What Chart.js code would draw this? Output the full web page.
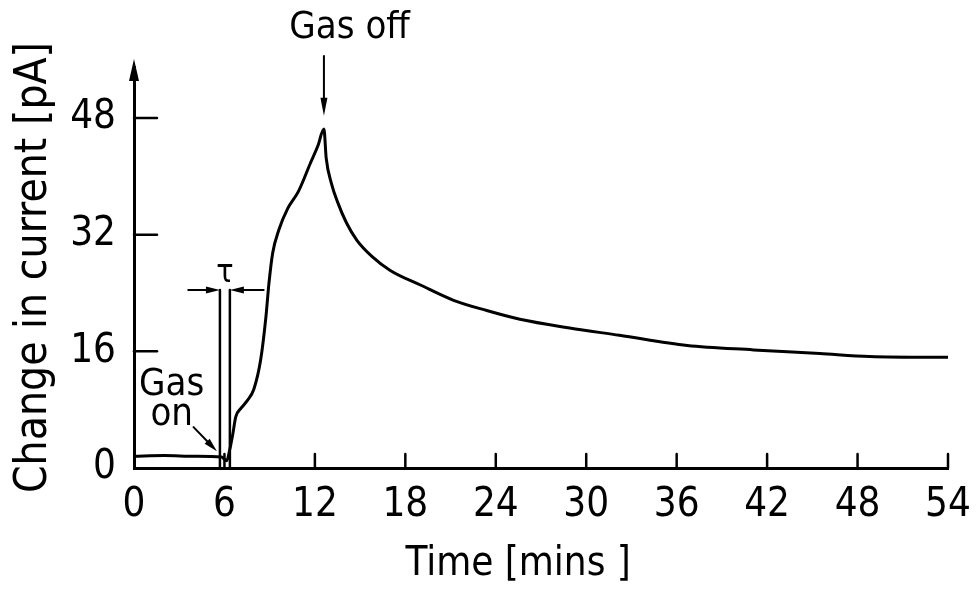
<!DOCTYPE html>
<html>
<head>
<meta charset="utf-8">
<script src="https://cdn.jsdelivr.net/npm/chart.js@4/dist/chart.umd.min.js"></script>
<style>
  html, body { margin: 0; padding: 0; background: #fff; }
  canvas { display: block; }
</style>
</head>
<body>
<canvas id="gasChart" width="976" height="589"></canvas>
<script>
// time (mins) vs change in current (pA)
const times = [0, 2, 4, 5.8, 6.15, 6.35, 6.55, 6.75, 7.1, 7.5, 7.95, 8.4, 8.75, 8.95, 9.2, 9.6, 10.2, 10.9, 11.7, 12.2, 12.6,
  12.75, 13.1, 13.5, 14.1, 14.8, 15.8, 17.0, 19.0, 21.2, 23.4, 25.6, 28.9, 32.2, 36.7, 41.1, 45.5, 48.8, 52.8, 54];
const current = [1.6, 1.7, 1.6, 1.5, 1.0, 2.5, 4.6, 7.0, 8.2, 9.2, 10.8, 14.8, 20.7, 25.3, 29.5, 32.6, 35.6, 37.9, 41.8, 44.2, 46.5,
  42.5, 39.0, 36.5, 33.6, 31.2, 29.0, 27.1, 25.1, 23.0, 21.6, 20.4, 19.2, 18.2, 16.8, 16.2, 15.7, 15.3, 15.2, 15.2];
const xTicks = [0, 6, 12, 18, 24, 30, 36, 42, 48, 54];
const yTicks = [0, 16, 32, 48];

// annotation anchors, in data units
const gasOff = { x: 12.6, from: 56.5, to: 48.3, labelX: 14.3, labelY: 60.3 };
const gasOn = { x1: 3.95, y1: 5.6, x2: 5.5, y2: 2.3, labelX: 2.5, gasY: 11.3, onY: 7.2 };
const tau = { left: 5.7, right: 6.36, top: 24.4, armL: 3.6, armR: 8.6, labelY: 26.6 };

const FONT = "'DejaVu Sans Condensed', 'DejaVu Sans', sans-serif";

function arrowHead(ctx, x, y, ang, len, w) {
  ctx.beginPath();
  ctx.moveTo(x, y);
  ctx.lineTo(x - len * Math.cos(ang) + w * Math.sin(ang), y - len * Math.sin(ang) - w * Math.cos(ang));
  ctx.lineTo(x - len * Math.cos(ang) - w * Math.sin(ang), y - len * Math.sin(ang) + w * Math.cos(ang));
  ctx.closePath();
  ctx.fill();
}

const decorations = {
  id: 'decorations',
  afterDraw(chart) {
    const ctx = chart.ctx;
    const xs = chart.scales.x, ys = chart.scales.y;
    const area = chart.chartArea;
    const px = v => xs.getPixelForValue(v);
    const py = v => ys.getPixelForValue(v);
    ctx.save();
    ctx.strokeStyle = '#000';
    ctx.fillStyle = '#000';
    ctx.lineCap = 'round';

    // inward tick marks
    ctx.lineWidth = 2.5;
    xTicks.forEach(v => {
      if (v === 0) return;
      ctx.beginPath();
      ctx.moveTo(px(v), area.bottom);
      ctx.lineTo(px(v), area.bottom - 14);
      ctx.stroke();
    });
    yTicks.forEach(v => {
      if (v === 0) return;
      ctx.beginPath();
      ctx.moveTo(area.left, py(v));
      ctx.lineTo(area.left + 23, py(v));
      ctx.stroke();
    });

    // y axis arrow
    arrowHead(ctx, area.left, area.top - 8, -Math.PI / 2, 22, 5);

    // Gas off
    ctx.lineWidth = 2;
    ctx.beginPath();
    ctx.moveTo(px(gasOff.x), py(gasOff.from));
    ctx.lineTo(px(gasOff.x), py(gasOff.to) - 8);
    ctx.stroke();
    arrowHead(ctx, px(gasOff.x), py(gasOff.to), Math.PI / 2, 18, 3.5);
    ctx.font = '38px ' + FONT;
    ctx.textAlign = 'center';
    ctx.textBaseline = 'middle';
    ctx.fillText('Gas off', px(gasOff.labelX), py(gasOff.labelY));

    // Gas on
    ctx.fillText('Gas', px(gasOn.labelX), py(gasOn.gasY));
    ctx.fillText('on', px(gasOn.labelX), py(gasOn.onY));
    const a = Math.atan2(py(gasOn.y2) - py(gasOn.y1), px(gasOn.x2) - px(gasOn.x1));
    ctx.beginPath();
    ctx.moveTo(px(gasOn.x1), py(gasOn.y1));
    ctx.lineTo(px(gasOn.x2) - 8 * Math.cos(a), py(gasOn.y2) - 8 * Math.sin(a));
    ctx.stroke();
    arrowHead(ctx, px(gasOn.x2), py(gasOn.y2), a, 14, 3.5);

    // tau markers
    ctx.lineWidth = 2.5;
    [tau.left, tau.right].forEach(t => {
      ctx.beginPath();
      ctx.moveTo(px(t), py(0));
      ctx.lineTo(px(t), py(tau.top));
      ctx.stroke();
    });
    ctx.lineWidth = 2;
    ctx.beginPath();
    ctx.moveTo(px(tau.armL), py(tau.top));
    ctx.lineTo(px(tau.left) - 6, py(tau.top));
    ctx.moveTo(px(tau.armR), py(tau.top));
    ctx.lineTo(px(tau.right) + 6, py(tau.top));
    ctx.stroke();
    arrowHead(ctx, px(tau.left), py(tau.top), 0, 14, 3.5);
    arrowHead(ctx, px(tau.right), py(tau.top), Math.PI, 14, 3.5);
    ctx.font = '32px ' + FONT;
    ctx.fillText('\u03c4', (px(tau.left) + px(tau.right)) / 2, py(tau.labelY));
    ctx.restore();
  }
};

new Chart(document.getElementById('gasChart'), {
  type: 'line',
  data: {
    datasets: [{
      data: times.map((t, i) => ({ x: t, y: current[i] })),
      borderColor: '#000',
      borderWidth: 3,
      pointRadius: 0,
      cubicInterpolationMode: 'monotone',
      fill: false
    }]
  },
  options: {
    responsive: false,
    animation: false,
    layout: { padding: { top: 67, right: 28, left: 0, bottom: 0 } },
    plugins: { legend: { display: false }, tooltip: { enabled: false } },
    scales: {
      x: {
        type: 'linear',
        min: 0,
        max: 54,
        afterBuildTicks: s => { s.ticks = xTicks.map(v => ({ value: v })); },
        afterFit: s => { s.height = 121; s.paddingLeft = 0; s.paddingRight = 0; },
        grid: { display: false, drawTicks: false },
        border: { color: '#000', width: 3 },
        ticks: { color: '#000', padding: 14, maxRotation: 0, autoSkip: false, font: { size: 40, family: FONT } },
        title: { display: true, text: 'Time [mins ]\u00a0\u00a0\u00a0\u00a0', color: '#000', font: { size: 40, family: FONT }, padding: { top: 0, bottom: 0 } }
      },
      y: {
        min: 0,
        max: 55,
        afterBuildTicks: s => { s.ticks = yTicks.map(v => ({ value: v })); },
        afterFit: s => { s.width = 134; s.paddingTop = 0; s.paddingBottom = 0; },
        grid: { display: false, drawTicks: false },
        border: { color: '#000', width: 3 },
        ticks: { color: '#000', padding: 18, font: { size: 40, family: FONT } },
        title: { display: true, text: 'Change in current [pA]', color: '#000', font: { size: 44, family: FONT }, padding: { top: 8, bottom: 0 } }
      }
    }
  },
  plugins: [decorations]
});
</script>
</body>
</html>
